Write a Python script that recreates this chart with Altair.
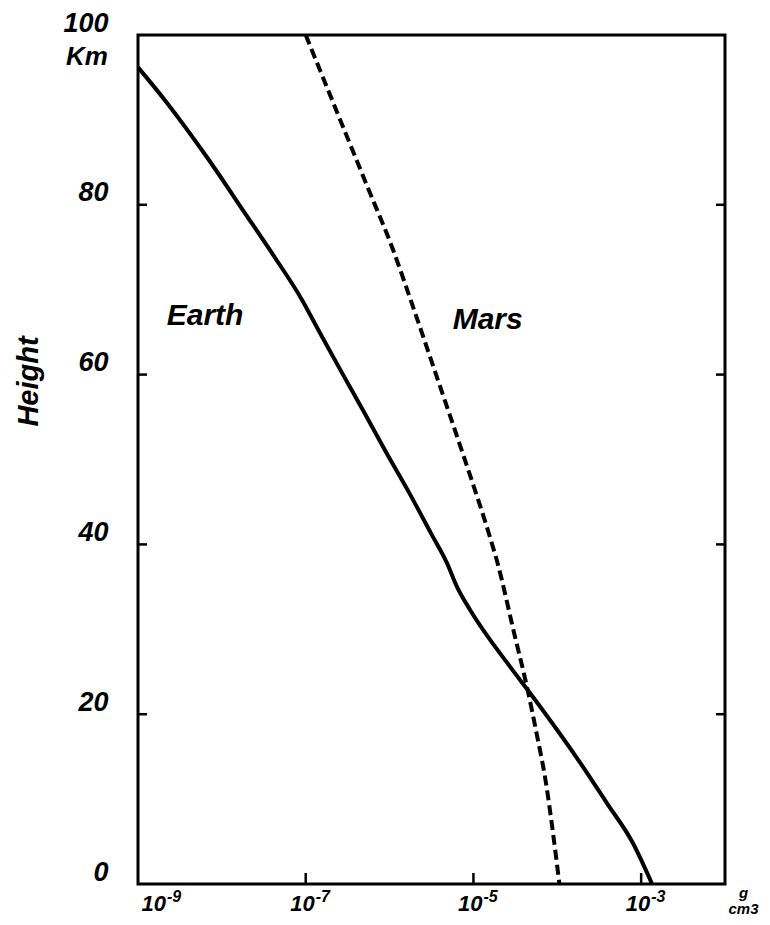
import altair as alt
import pandas as pd

# ---- data ----
earth_height = [96.2, 92.0, 85.6, 79.0, 74.3, 68.8, 64.9, 60.2, 55.8, 51.1, 46.1,
                41.3, 37.8, 35.0, 32.3, 25.6, 22.5, 14.3, 9.5, 4.8, 0.0]
earth_density = [1.0e-9, 2.22e-9, 6.65e-9, 1.89e-8, 3.96e-8, 9.04e-8, 1.48e-7, 2.71e-7,
                 4.82e-7, 8.81e-7, 1.71e-6, 3.12e-6, 4.84e-6, 6.37e-6, 9.1e-6, 2.73e-5,
                 4.73e-5, 1.87e-4, 3.92e-4, 8.0e-4, 1.35e-3]

mars_height = [100.0, 91.2, 82.1, 74.7, 68.0, 59.7, 50.3, 40.9, 37.8, 29.6, 22.9,
               17.8, 11.9, 6.0, 0.0]
mars_density = [1.0e-7, 2.30e-7, 5.46e-7, 1.10e-6, 1.90e-6, 3.67e-6, 7.7e-6, 1.57e-5,
                1.94e-5, 3.05e-5, 4.42e-5, 5.65e-5, 7.33e-5, 8.89e-5, 1.06e-4]

x_ticks = [1e-9, 1e-7, 1e-5, 1e-3]
x_tick_base = ["10", "10", "10", "10"]
x_tick_exp = ["-9", "-7", "-5", "-3"]
y_ticks = [0, 20, 40, 60, 80, 100]
inner_y_ticks = [20, 40, 60, 80]
inner_x_ticks = [1e-7, 1e-5, 1e-3]

series_labels = ["Earth", "Mars"]
label_density = [6.3e-9, 1.48e-5]
label_height = [66.9, 66.4]

x_domain = [1e-9, 1e-2]
y_domain = [0, 100]

W, H = 587, 849
FONT = "Liberation Sans"

earth_df = pd.DataFrame({"density": earth_density, "height": earth_height})
mars_df = pd.DataFrame({"density": mars_density, "height": mars_height})
labels_df = pd.DataFrame({"label": series_labels, "density": label_density, "height": label_height})
km_df = pd.DataFrame({"label": ["Km"], "density": [x_domain[0]], "height": [y_domain[1]]})
xlab_df = pd.DataFrame({"density": x_ticks, "base": x_tick_base, "exp": x_tick_exp})

x_scale = alt.Scale(type="log", domain=x_domain, nice=False)
y_scale = alt.Scale(domain=y_domain, nice=False)

x_enc = alt.X(
    "density:Q", scale=x_scale,
    axis=alt.Axis(
        values=x_ticks, labels=False, ticks=False, domain=False, grid=False,
        title=["g", "cm3"], titleX=605, titleY=1, titleBaseline="top", titleAlign="center",
        titleFont=FONT, titleFontSize=15, titleFontWeight="bold", titleFontStyle="italic",
        titleLineHeight=16, titleColor="black",
    ),
)
y_enc = alt.Y(
    "height:Q", scale=y_scale,
    axis=alt.Axis(
        values=y_ticks, ticks=False, domain=False, grid=False,
        labelFont=FONT, labelFontSize=27, labelFontWeight="bold", labelFontStyle="italic",
        labelColor="black", labelPadding=30, labelOffset=-12, labelFlush=False,
        title="Height", titleX=-110, titleY=346, titleAngle=270, titleAlign="center",
        titleBaseline="middle", titleFont=FONT, titleFontSize=29, titleFontWeight="bold",
        titleFontStyle="italic", titleColor="black",
    ),
)

xs = alt.X("density:Q", scale=x_scale)
ys = alt.Y("height:Q", scale=y_scale)

earth = alt.Chart(earth_df).mark_line(
    color="black", strokeWidth=4, interpolate="monotone", clip=True
).encode(x=x_enc, y=y_enc)

mars = alt.Chart(mars_df).mark_line(
    color="black", strokeWidth=4, strokeDash=[10, 5], interpolate="monotone", clip=True
).encode(x=xs, y=ys)

texts = alt.Chart(labels_df).mark_text(
    font=FONT, fontSize=30, fontWeight="bold", fontStyle="italic", color="black",
    align="center", baseline="middle"
).encode(x=xs, y=ys, text="label:N")

km = alt.Chart(km_df).mark_text(
    font=FONT, fontSize=26, fontWeight="bold", fontStyle="italic", color="black",
    align="right", baseline="middle", dx=-30, dy=22
).encode(x=xs, y=ys, text="label:N")

# x tick labels: "10" with a raised exponent
first = alt.datum.density < 1e-8
base_first = alt.Chart(xlab_df).transform_filter(first).mark_text(
    font=FONT, fontSize=22, fontWeight="bold", fontStyle="italic", color="black",
    align="right", baseline="alphabetic", dx=28, dy=27
).encode(x=xs, y=alt.value(H), text="base:N")
exp_first = alt.Chart(xlab_df).transform_filter(first).mark_text(
    font=FONT, fontSize=16, fontWeight="bold", fontStyle="italic", color="black",
    align="left", baseline="alphabetic", dx=29, dy=18
).encode(x=xs, y=alt.value(H), text="exp:N")
base_rest = alt.Chart(xlab_df).transform_filter(~first).mark_text(
    font=FONT, fontSize=22, fontWeight="bold", fontStyle="italic", color="black",
    align="right", baseline="alphabetic", dx=9, dy=27
).encode(x=xs, y=alt.value(H), text="base:N")
exp_rest = alt.Chart(xlab_df).transform_filter(~first).mark_text(
    font=FONT, fontSize=16, fontWeight="bold", fontStyle="italic", color="black",
    align="left", baseline="alphabetic", dx=10, dy=18
).encode(x=xs, y=alt.value(H), text="exp:N")

ytick_df = pd.DataFrame({"height": inner_y_ticks})
xtick_df = pd.DataFrame({"density": inner_x_ticks})

left_ticks = alt.Chart(ytick_df).mark_rule(color="black", strokeWidth=2.5).encode(
    y=ys, x=alt.value(0), x2=alt.value(9))
right_ticks = alt.Chart(ytick_df).mark_rule(color="black", strokeWidth=2.5).encode(
    y=ys, x=alt.value(W), x2=alt.value(W - 9))
bottom_ticks = alt.Chart(xtick_df).mark_rule(color="black", strokeWidth=2.5).encode(
    x=xs, y=alt.value(H), y2=alt.value(H - 11))

chart = alt.layer(
    earth, mars, texts, km, base_first, exp_first, base_rest, exp_rest,
    left_ticks, right_ticks, bottom_ticks
).properties(
    width=W, height=H, autosize="none", background="white",
    padding={"left": 130, "top": 27, "right": 37, "bottom": 33},
).configure_view(
    stroke="black", strokeWidth=3
)

chart.save("out.html", embed_options={"renderer": "svg", "actions": False})
